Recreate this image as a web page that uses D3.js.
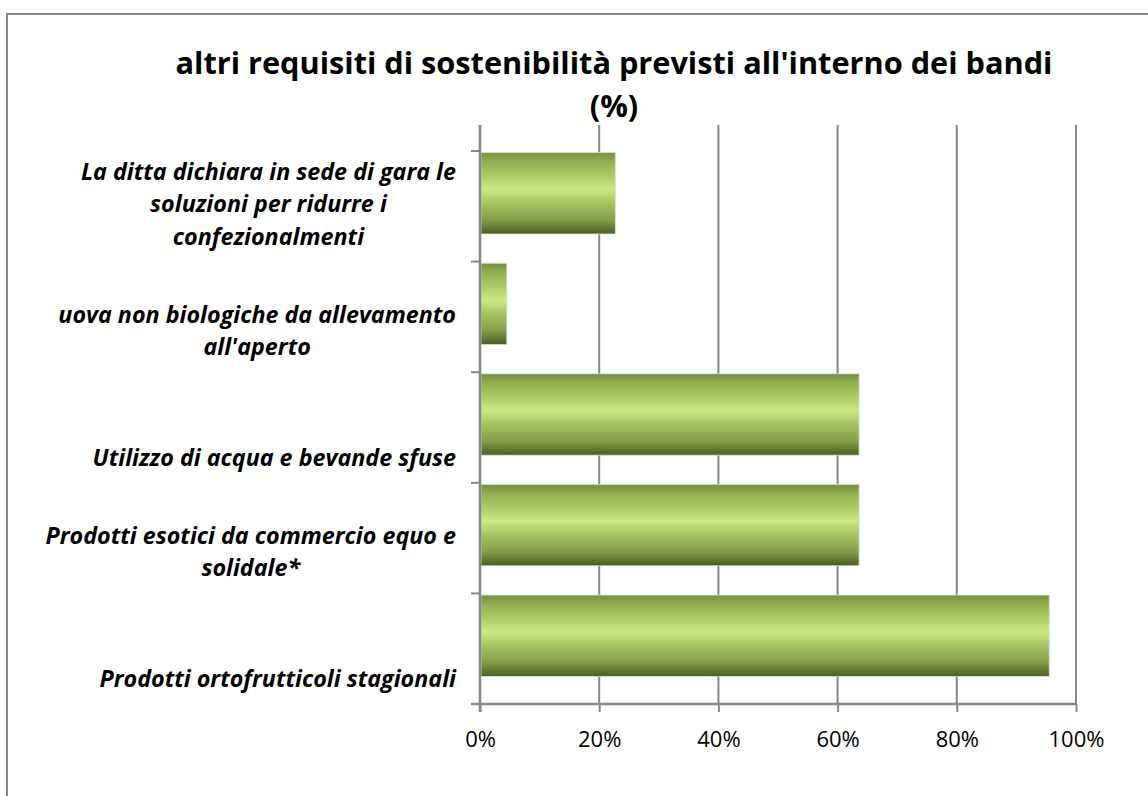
<!DOCTYPE html>
<html>
<head>
<meta charset="utf-8">
<script src="https://cdn.jsdelivr.net/npm/d3@7"></script>
<style>
  body { margin: 0; background: #fff; }
  svg { display: block; font-variant-ligatures: none; }
</style>
</head>
<body>
<div id="chart"></div>
<script>
// DATA
const chartTitle = ["altri requisiti di sostenibilità previsti all'interno dei bandi", "(%)"];
const categories = [
    "La ditta dichiara in sede di gara le soluzioni per ridurre i confezionalmenti",
    "uova non biologiche da allevamento all'aperto",
    "Utilizzo di acqua e bevande sfuse",
    "Prodotti esotici da commercio equo e solidale*",
    "Prodotti ortofrutticoli stagionali"
];
const labelLines = [
    ["La ditta dichiara in sede di gara le", "soluzioni per ridurre i", "confezionalmenti"],
    ["uova non biologiche da allevamento", "all'aperto"],
    ["Utilizzo di acqua e bevande sfuse"],
    ["Prodotti esotici da commercio equo e", "solidale*"],
    ["Prodotti ortofrutticoli stagionali"]
];
const values = [22.7, 4.5, 63.6, 63.6, 95.5];
const xTicks = [0, 20, 40, 60, 80, 100];

// LAYOUT
const width = 1148, height = 796;
const plot = {left: 480, right: 1076, top: 125, catTop: 151, bottom: 704};
const grey = "#878787";
const font = "'Open Sans', Lato, sans-serif";

const svg = d3.select("#chart").append("svg")
    .attr("width", width)
    .attr("height", height)
    .attr("viewBox", [0, 0, width, height]);

// bar gradient (excel style)
const grad = svg.append("defs").append("linearGradient")
    .attr("id", "barGrad")
    .attr("x1", 0).attr("y1", 0).attr("x2", 0).attr("y2", 1);
[[0, "#768f40"], [0.12, "#93b052"], [0.3, "#aecd66"], [0.45, "#c9ea84"], [0.62, "#a5c462"],
 [0.82, "#869f4c"], [0.93, "#62772f"], [1, "#4a5b26"]].forEach(([o, c]) =>
    grad.append("stop").attr("offset", o).attr("stop-color", c));

// outer frame
svg.append("path")
    .attr("d", `M7,${height + 5}V14H${width + 5}`)
    .attr("fill", "none")
    .attr("stroke", grey)
    .attr("stroke-width", 2);

const x = d3.scaleLinear([0, 100], [plot.left, plot.right]);
const y = d3.scaleBand(categories, [plot.catTop, plot.bottom]);

// gridlines
svg.append("g")
    .selectAll("line")
    .data(xTicks.slice(1))
    .join("line")
        .attr("x1", d => x(d)).attr("x2", d => x(d))
        .attr("y1", plot.top).attr("y2", plot.bottom)
        .attr("stroke", grey)
        .attr("stroke-width", 2);

// bars
svg.append("g")
    .selectAll("rect")
    .data(values)
    .join("rect")
        .attr("x", x(0) + 1)
        .attr("y", (d, i) => y(categories[i]) + y.bandwidth() * 0.015)
        .attr("width", d => x(d) - x(0) - 1)
        .attr("height", y.bandwidth() * 0.735)
        .attr("fill", "url(#barGrad)")
        .attr("stroke", "#d6dccb")
        .attr("stroke-width", 0.8);

// x axis
const xAxis = svg.append("g")
    .attr("transform", `translate(0,${plot.bottom})`)
    .call(d3.axisBottom(x).tickValues(xTicks).tickSize(8).tickSizeOuter(0).tickFormat(d => d + "%"));
xAxis.select(".domain").attr("stroke", grey).attr("stroke-width", 2.5)
    .attr("d", `M${plot.left - 9},0H${plot.right}`);
xAxis.selectAll(".tick line").attr("stroke", grey).attr("stroke-width", 2);
xAxis.selectAll(".tick text")
    .attr("y", 43)
    .attr("dy", 0)
    .style("font", `22px ${font}`)
    .attr("fill", "#000");

// category axis
svg.append("line")
    .attr("x1", plot.left).attr("x2", plot.left)
    .attr("y1", plot.top).attr("y2", plot.bottom + 8)
    .attr("stroke", grey)
    .attr("stroke-width", 2.5);
svg.append("g")
    .selectAll("line")
    .data(categories)
    .join("line")
        .attr("x1", plot.left - 9).attr("x2", plot.left)
        .attr("y1", d => y(d)).attr("y2", d => y(d))
        .attr("stroke", grey)
        .attr("stroke-width", 2);

// category labels: centred lines, block right edge at 455, bottom aligned
const labels = svg.append("g")
    .style("font", `italic bold 23.3px ${font}`)
    .attr("fill", "#000");
labelLines.forEach((lines, i) => {
    const bottom = y(categories[i]) + y.bandwidth() - 17;
    const t = labels.append("text").attr("text-anchor", "middle");
    lines.forEach((l, j) => {
        t.append("tspan")
            .attr("y", bottom - (lines.length - 1 - j) * 32.5)
            .text(l);
    });
    let maxW = 0;
    t.selectAll("tspan").each(function() { maxW = Math.max(maxW, this.getComputedTextLength()); });
    t.selectAll("tspan").attr("x", 456 - maxW / 2);
});

// title
svg.append("g")
    .style("font", `bold 30.7px ${font}`)
    .attr("text-anchor", "middle")
    .selectAll("text")
    .data(chartTitle)
    .join("text")
        .attr("x", 614)
        .attr("y", (d, i) => 74 + i * 43)
        .text(d => d);
</script>
</body>
</html>
